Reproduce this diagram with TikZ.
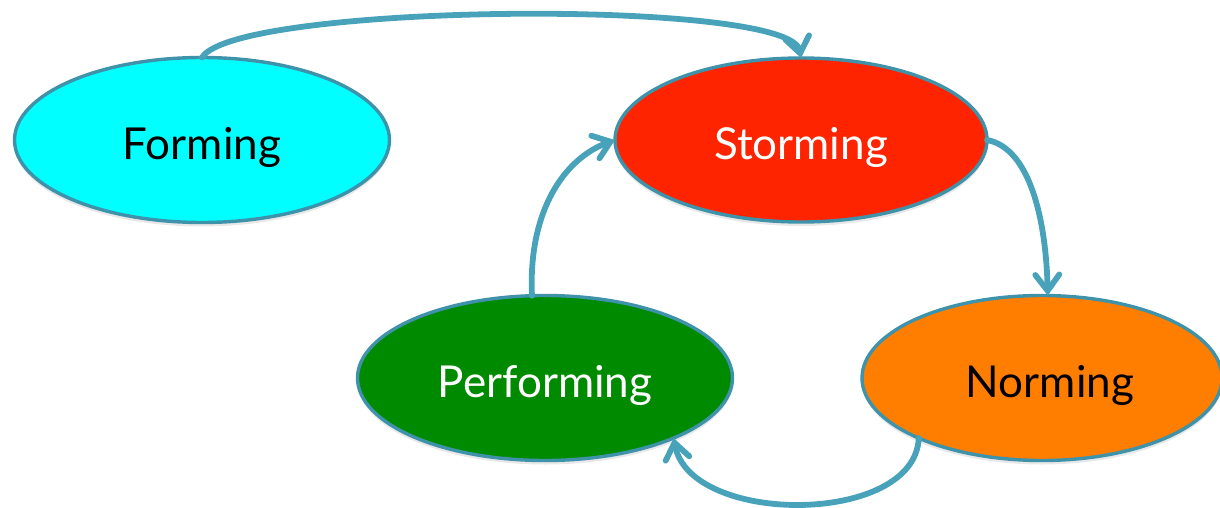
\documentclass[tikz,border=0pt]{standalone}
\usepackage{fontspec}
\setmainfont{Lato}
\usetikzlibrary{shapes.geometric,arrows.meta,shadows}
\definecolor{linec}{RGB}{72,163,186}
\definecolor{borderc}{RGB}{62,146,170}
\definecolor{formc}{RGB}{0,255,255}
\definecolor{stormc}{RGB}{255,36,0}
\definecolor{perfc}{RGB}{0,138,0}
\definecolor{normc}{RGB}{255,126,0}
\newcommand{\stagetext}[1]{\raisebox{-7pt}[\height][\depth]{#1}}
\tikzset{
  stage/.style={ellipse, draw=borderc, line width=3.4pt, inner sep=0pt, outer sep=0pt,
    minimum width=375pt, minimum height=165pt, font=\fontsize{44}{50}\selectfont,
    drop shadow={opacity=0.18, shadow xshift=0pt, shadow yshift=-4pt}},
  flow/.style={draw=linec, line width=5.8pt, line cap=round,
    -{Straight Barb[length=16pt,width=24pt,line cap=round]}}
}
\begin{document}
\begin{tikzpicture}[x=1pt,y=-1pt]
\useasboundingbox (0,0) rectangle (1220,508);
\node[stage, fill=formc, text=black] (forming) at (202,140) {\stagetext{Forming}};
\node[stage, fill=stormc, text=white, minimum width=372pt, minimum height=164pt] (storming) at (801,140) {\stagetext{Storming}};
\node[stage, fill=perfc, text=white] (performing) at (545,378) {\stagetext{Performing}};
\node[stage, fill=normc, text=black, minimum width=360pt] (norming) at (1042,378) {\stagetext{\hspace{16pt}Norming}};
\draw[flow] (forming.north) .. controls (235,3) and (790,-2) .. (storming.north);
\draw[flow] (storming.east) .. controls (1030,148) and (1046,220) .. (norming.86);
\draw[flow] (norming.206) .. controls (915,526) and (690,526) .. (performing.335);
\draw[flow] (performing.99) .. controls (528,210) and (565,158) .. (storming.west);
\end{tikzpicture}
\end{document}
